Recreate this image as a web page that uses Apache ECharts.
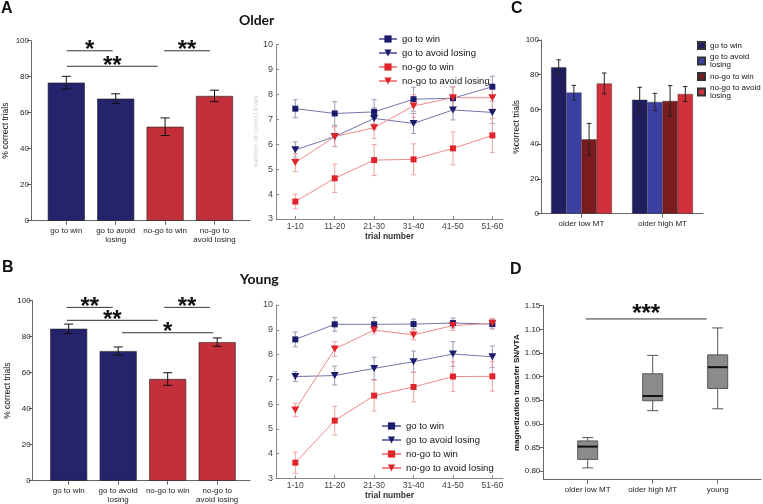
<!DOCTYPE html>
<html><head><meta charset="utf-8">
<script src="https://cdn.jsdelivr.net/npm/echarts@6/dist/echarts.min.js"></script>
<style>html,body{margin:0;padding:0;background:#fff}#c{width:763px;height:504px}</style>
</head><body><div id="c"></div>
<script>
// ---------------- data ----------------
const barCategories = ['go to win', 'go to avoid\nlosing', 'no-go to win', 'no-go to\navoid losing'];
const olderBarMeans = [76.7, 67.8, 52.2, 69.3];
const olderBarErrors = [3.5, 2.7, 4.9, 3.2];
const youngBarMeans = [84.4, 72.0, 56.5, 77.0];
const youngBarErrors = [2.6, 2.3, 3.5, 2.3];
// significance bars: [from category, to category, y value]
const olderSig = [[0.01, 0.94, 94.4], [0.01, 1.85, 85.8], [1.98, 2.91, 94.4]];
const olderSigLabels = ['*', '**', '**'];
const youngSig = [[-0.04, 0.89, 96.3], [-0.04, 1.80, 89.1], [1.08, 2.92, 82.2], [1.93, 2.85, 96.3]];
const youngSigLabels = ['**', '**', '*', '**'];

const trialBins = ['1-10', '11-20', '21-30', '31-40', '41-50', '51-60'];
const conditionNames = ['go to win', 'go to avoid losing', 'no-go to win', 'no-go to avoid losing'];
const olderGoWin = [7.42, 7.23, 7.29, 7.80, 7.84, 8.30];
const olderGoWinErr = [0.36, 0.47, 0.49, 0.48, 0.45, 0.42];
const olderGoAvoid = [5.77, 6.30, 7.03, 6.83, 7.37, 7.27];
const olderGoAvoidErr = [0.32, 0.40, 0.42, 0.40, 0.40, 0.45];
const olderNoGoWin = [3.70, 4.63, 5.36, 5.39, 5.83, 6.35];
const olderNoGoWinErr = [0.29, 0.57, 0.62, 0.62, 0.66, 0.68];
const olderNoGoAvoid = [5.26, 6.30, 6.66, 7.53, 7.86, 7.86];
const olderNoGoAvoidErr = [0.36, 0.40, 0.43, 0.45, 0.45, 0.45];

const youngGoWin = [8.61, 9.22, 9.22, 9.23, 9.27, 9.23];
const youngGoWinErr = [0.30, 0.28, 0.28, 0.20, 0.20, 0.20];
const youngGoAvoid = [7.11, 7.15, 7.44, 7.71, 8.02, 7.91];
const youngGoAvoidErr = [0.20, 0.38, 0.45, 0.43, 0.50, 0.43];
const youngNoGoWin = [3.63, 5.33, 6.34, 6.69, 7.11, 7.12];
const youngNoGoWinErr = [0.43, 0.58, 0.62, 0.60, 0.60, 0.60];
const youngNoGoAvoid = [5.76, 8.22, 8.99, 8.79, 9.17, 9.26];
const youngNoGoAvoidErr = [0.27, 0.30, 0.15, 0.20, 0.20, 0.20];

const mtGroups = ['older low MT', 'older high MT'];
const mtLegendNames = ['go to win', 'go to avoid\nlosing', 'no-go to win', 'no-go to avoid\nlosing'];
const mtGoWin = [84.3, 65.6];
const mtGoWinErr = [4.3, 7.2];
const mtGoAvoid = [69.7, 64.3];
const mtGoAvoidErr = [4.2, 5.0];
const mtNoGoWin = [42.8, 64.9];
const mtNoGoWinErr = [9.2, 8.8];
const mtNoGoAvoid = [75.0, 68.9];
const mtNoGoAvoidErr = [6.0, 4.3];

const boxGroups = ['older low MT', 'older high MT', 'young'];
// [min, q1, median, q3, max]
const boxLowMT = [0.807, 0.825, 0.852, 0.864, 0.871];
const boxHighMT = [0.928, 0.949, 0.959, 1.006, 1.045];
const boxYoung = [0.932, 0.975, 1.020, 1.046, 1.103];
const boxTicks = [0.80, 0.85, 0.90, 0.95, 1.00, 1.05, 1.10, 1.15];
const boxSig = [[-0.03, 1.83, 1.122]];
const boxSigLabels = ['***'];

// ---------------- style ----------------
const FONT = "'Liberation Sans', Arial, sans-serif";
const NAVY = '#25236b', RED = '#c3303a';
const barColors = [NAVY, NAVY, RED, RED];
const AXIS = '#666';

const chart = echarts.init(document.getElementById('c'), null, {renderer: 'canvas'});

function errorBars(xi, yi, points, capW, color, xOffset, z) {
  return {
    type: 'custom', xAxisIndex: xi, yAxisIndex: yi, silent: true, z: z || 4,
    data: points, encode: {x: 0, y: 1},
    renderItem: function (params, api) {
      const x = api.value(0), m = api.value(1), e = api.value(2);
      const t = api.coord([x, m + e]), b = api.coord([x, m - e]);
      const cx = t[0] + (xOffset || 0);
      const st = {stroke: color, lineWidth: 1};
      return {type: 'group', children: [
        {type: 'line', shape: {x1: cx, y1: t[1], x2: cx, y2: b[1]}, style: st},
        {type: 'line', shape: {x1: cx - capW / 2, y1: t[1], x2: cx + capW / 2, y2: t[1]}, style: st},
        {type: 'line', shape: {x1: cx - capW / 2, y1: b[1], x2: cx + capW / 2, y2: b[1]}, style: st}
      ]};
    }
  };
}

function sigBars(xi, yi, segs, labels, lift) {
  return {
    type: 'custom', xAxisIndex: xi, yAxisIndex: yi, silent: true, z: 6,
    data: segs, encode: {x: [0, 1], y: 2},
    renderItem: function (params, api) {
      const a = api.coord([api.value(0), api.value(2)]);
      const b = api.coord([api.value(1), api.value(2)]);
      return {type: 'group', children: [
        {type: 'line', shape: {x1: a[0], y1: a[1], x2: b[0], y2: b[1]}, style: {stroke: '#333', lineWidth: 1}},
        {type: 'text', x: (a[0] + b[0]) / 2, y: a[1] - lift,
          style: {text: labels[params.dataIndex], fontSize: 24, fontWeight: 'bold', fontFamily: FONT,
            fill: '#111', align: 'center', verticalAlign: 'middle'}}
      ]};
    }
  };
}

function valueCatX(gi, min, max, n, names, margin) {
  const vals = [];
  for (let i = 0; i < n; i++) vals.push(i);
  return {
    gridIndex: gi, type: 'value', min: min, max: max, splitLine: {show: false},
    axisLine: {show: true, onZero: false, lineStyle: {color: AXIS, width: 1}},
    axisTick: {show: true, customValues: vals, length: 4, lineStyle: {color: AXIS}},
    axisLabel: {customValues: vals, formatter: function (v) { return names[Math.round(v)]; },
      fontSize: 8, color: '#222', fontFamily: FONT, lineHeight: 9, margin: margin}
  };
}

function lineX(gi) {
  const vals = [0, 1, 2, 3, 4, 5];
  return {
    gridIndex: gi, type: 'value', min: -0.49, max: 5.27, splitLine: {show: false},
    axisLine: {show: true, onZero: false, lineStyle: {color: '#888', width: 1}},
    axisTick: {show: true, inside: true, customValues: vals, length: 3, lineStyle: {color: '#888'}},
    axisLabel: {customValues: vals, formatter: function (v) { return trialBins[Math.round(v)]; },
      fontSize: 8.5, color: '#444', fontFamily: FONT, margin: 3},
    name: 'trial number', nameLocation: 'middle', nameGap: 13,
    nameTextStyle: {fontSize: 8.5, fontWeight: 'bold', color: '#333', fontFamily: FONT}
  };
}
function lineY(gi, name) {
  return {
    gridIndex: gi, type: 'value', min: 3, max: 10, interval: 1, splitLine: {show: false},
    axisLine: {show: true, onZero: false, lineStyle: {color: '#888', width: 1}},
    axisTick: {show: true, inside: true, length: 3, lineStyle: {color: '#888'}},
    axisLabel: {fontSize: 9, color: '#444', fontFamily: FONT, margin: 3},
    name: name || '', nameLocation: 'middle', nameGap: 15,
    nameTextStyle: {fontSize: 7, color: '#d0d0d0', fontFamily: FONT}
  };
}
function pctY(gi, name, gap) {
  return {
    gridIndex: gi, type: 'value', min: 0, max: 100, interval: 20, splitLine: {show: false},
    axisLine: {show: true, onZero: false, lineStyle: {color: AXIS, width: 1}},
    axisTick: {show: true, length: 4, lineStyle: {color: AXIS}},
    axisLabel: {fontSize: 8, color: '#222', fontFamily: FONT, margin: 2},
    name: name, nameLocation: 'middle', nameGap: gap,
    nameTextStyle: {fontSize: 8.5, color: '#111', fontFamily: FONT}
  };
}

const navyM = '#1b1b6b', navyL = '#7474ae', navyE = '#9a9ab4';
const redM = '#e0242a', redL = '#f08a8a', redE = '#efa3a3';
function lineSeries(xi, name, vals, sym, mc, lc) {
  return {
    type: 'line', name: name, xAxisIndex: xi, yAxisIndex: xi, z: 5,
    data: vals.map(function (v, i) { return [i, v]; }),
    symbol: sym === 'tri' ? 'triangle' : 'rect',
    symbolSize: sym === 'tri' ? [8, 7] : 6,
    symbolRotate: sym === 'tri' ? 180 : 0,
    itemStyle: {color: mc}, lineStyle: {color: lc, width: 1}, emphasis: {disabled: true}
  };
}
function ptsOf(vals, errs) { return vals.map(function (v, i) { return [i, v, errs[i]]; }); }

const BW = 15.2;
const mtSeriesVals = [mtGoWin, mtGoAvoid, mtNoGoWin, mtNoGoAvoid];
const mtSeriesErr = [mtGoWinErr, mtGoAvoidErr, mtNoGoWinErr, mtNoGoAvoidErr];
const mtColors = ['#201e5e', '#3d40a3', '#7a1b1d', '#d0313b'];

const series = [];
// A bar
series.push({type: 'bar', name: 'older bars', xAxisIndex: 0, yAxisIndex: 0, barWidth: 37,
  data: olderBarMeans.map(function (v, i) { return {value: [i, v], itemStyle: {color: barColors[i]}}; }),
  itemStyle: {borderColor: '#222', borderWidth: 0.6}, emphasis: {disabled: true}});
series.push(errorBars(0, 0, ptsOf(olderBarMeans, olderBarErrors), 9, '#111', 0));
series.push(sigBars(0, 0, olderSig, olderSigLabels, 0));
// B bar
series.push({type: 'bar', name: 'young bars', xAxisIndex: 3, yAxisIndex: 3, barWidth: 37,
  data: youngBarMeans.map(function (v, i) { return {value: [i, v], itemStyle: {color: barColors[i]}}; }),
  itemStyle: {borderColor: '#222', borderWidth: 0.6}, emphasis: {disabled: true}});
series.push(errorBars(3, 3, ptsOf(youngBarMeans, youngBarErrors), 9, '#111', 0));
series.push(sigBars(3, 3, youngSig, youngSigLabels, 0));
// A line
series.push(errorBars(1, 1, ptsOf(olderGoWin, olderGoWinErr), 5, navyE, 0, 3));
series.push(errorBars(1, 1, ptsOf(olderGoAvoid, olderGoAvoidErr), 5, navyE, 0, 3));
series.push(errorBars(1, 1, ptsOf(olderNoGoWin, olderNoGoWinErr), 5, redE, 0, 3));
series.push(errorBars(1, 1, ptsOf(olderNoGoAvoid, olderNoGoAvoidErr), 5, redE, 0, 3));
series.push(lineSeries(1, conditionNames[0], olderGoWin, 'sq', navyM, navyL));
series.push(lineSeries(1, conditionNames[1], olderGoAvoid, 'tri', navyM, navyL));
series.push(lineSeries(1, conditionNames[2], olderNoGoWin, 'sq', redM, redL));
series.push(lineSeries(1, conditionNames[3], olderNoGoAvoid, 'tri', redM, redL));
// B line
series.push(errorBars(4, 4, ptsOf(youngGoWin, youngGoWinErr), 5, navyE, 0, 3));
series.push(errorBars(4, 4, ptsOf(youngGoAvoid, youngGoAvoidErr), 5, navyE, 0, 3));
series.push(errorBars(4, 4, ptsOf(youngNoGoWin, youngNoGoWinErr), 5, redE, 0, 3));
series.push(errorBars(4, 4, ptsOf(youngNoGoAvoid, youngNoGoAvoidErr), 5, redE, 0, 3));
series.push(lineSeries(4, conditionNames[0], youngGoWin, 'sq', navyM, navyL));
series.push(lineSeries(4, conditionNames[1], youngGoAvoid, 'tri', navyM, navyL));
series.push(lineSeries(4, conditionNames[2], youngNoGoWin, 'sq', redM, redL));
series.push(lineSeries(4, conditionNames[3], youngNoGoAvoid, 'tri', redM, redL));
// C grouped bars
mtSeriesVals.forEach(function (vals, k) {
  series.push({type: 'bar', name: 'C|' + mtLegendNames[k], xAxisIndex: 2, yAxisIndex: 2,
    barWidth: BW, barGap: '0%', data: vals, itemStyle: {color: mtColors[k], borderColor: '#333', borderWidth: 0.4},
    emphasis: {disabled: true}});
});
mtSeriesVals.forEach(function (vals, k) {
  series.push(errorBars(2, 2, ptsOf(vals, mtSeriesErr[k]), 4.5, '#222', (k - 1.5) * BW));
});
// D boxplot
series.push({
  type: 'custom', name: 'box', xAxisIndex: 5, yAxisIndex: 5, silent: true, z: 4,
  data: [boxLowMT, boxHighMT, boxYoung].map(function (b, i) { return [i].concat(b); }),
  encode: {x: 0, y: [1, 2, 3, 4, 5]},
  renderItem: function (params, api) {
    const x = api.value(0);
    const p = [1, 2, 3, 4, 5].map(function (d) { return api.coord([x, api.value(d)]); });
    const cx = p[0][0], hw = 10, cw = 5.5;
    const ws = {stroke: '#555', lineWidth: 1};
    return {type: 'group', children: [
      {type: 'line', shape: {x1: cx, y1: p[0][1], x2: cx, y2: p[1][1]}, style: ws},
      {type: 'line', shape: {x1: cx, y1: p[3][1], x2: cx, y2: p[4][1]}, style: ws},
      {type: 'line', shape: {x1: cx - cw, y1: p[0][1], x2: cx + cw, y2: p[0][1]}, style: ws},
      {type: 'line', shape: {x1: cx - cw, y1: p[4][1], x2: cx + cw, y2: p[4][1]}, style: ws},
      {type: 'rect', shape: {x: cx - hw, y: p[3][1], width: 2 * hw, height: p[1][1] - p[3][1]},
        style: {fill: '#8b8b8b', stroke: '#555', lineWidth: 1}},
      {type: 'line', shape: {x1: cx - hw, y1: p[2][1], x2: cx + hw, y2: p[2][1]}, style: {stroke: '#111', lineWidth: 2}}
    ]};
  }
});
series.push(sigBars(5, 5, boxSig, boxSigLabels, 5));

const option = {
  animation: false,
  backgroundColor: '#fff',
  textStyle: {fontFamily: FONT},
  title: [
    {text: 'A', left: 1, top: 1, padding: 0, textStyle: {fontSize: 16, fontWeight: 'bold', fontFamily: FONT, color: '#111'}},
    {text: 'C', left: 511, top: 1, padding: 0, textStyle: {fontSize: 16, fontWeight: 'bold', fontFamily: FONT, color: '#111'}},
    {text: 'B', left: 2, top: 260, padding: 0, textStyle: {fontSize: 16, fontWeight: 'bold', fontFamily: FONT, color: '#111'}},
    {text: 'D', left: 510, top: 262, padding: 0, textStyle: {fontSize: 16, fontWeight: 'bold', fontFamily: FONT, color: '#111'}},
    {text: 'Older', left: 239, top: 13, padding: 0, textStyle: {fontSize: 14, fontWeight: 'bold', fontFamily: 'Lato', color: '#111'}},
    {text: 'Young', left: 240, top: 272, padding: 0, textStyle: {fontSize: 14, fontWeight: 'bold', fontFamily: 'Lato', color: '#111'}}
  ],
  legend: [
    {orient: 'vertical', left: 378, top: 34, padding: 0, itemWidth: 18, itemHeight: 9, itemGap: 4,
      data: conditionNames, selectedMode: false,
      textStyle: {fontSize: 9.5, color: '#111', fontFamily: FONT}},
    {orient: 'vertical', left: 381, top: 421, padding: 0, itemWidth: 19, itemHeight: 9, itemGap: 4,
      data: conditionNames, selectedMode: false,
      textStyle: {fontSize: 9.5, color: '#111', fontFamily: FONT}},
    {orient: 'vertical', left: 697, top: 41, padding: 0, itemWidth: 7, itemHeight: 7, itemGap: 3,
      data: mtLegendNames.map(function (n) { return 'C|' + n; }), selectedMode: false, icon: 'rect',
      formatter: function (n) { return n.replace('C|', ''); },
      textStyle: {fontSize: 8, lineHeight: 8, color: '#111', fontFamily: FONT}}
  ],
  grid: [
    {left: 31, top: 40.7, width: 219, height: 180, outerBoundsMode: 'none'},
    {left: 276, top: 44.3, width: 227, height: 174.7, outerBoundsMode: 'none'},
    {left: 541, top: 40, width: 162, height: 173.7, outerBoundsMode: 'none'},
    {left: 32.7, top: 300.7, width: 217.3, height: 180, outerBoundsMode: 'none'},
    {left: 276, top: 305, width: 227, height: 173.3, outerBoundsMode: 'none'},
    {left: 543.3, top: 305.7, width: 217.7, height: 174, outerBoundsMode: 'none'}
  ],
  xAxis: [
    valueCatX(0, -0.715, 3.719, 4, barCategories, 6),
    lineX(1),
    {gridIndex: 2, type: 'category', data: mtGroups,
      axisLine: {show: true, lineStyle: {color: AXIS}},
      axisTick: {show: true, alignWithLabel: true, length: 4, lineStyle: {color: AXIS}},
      axisLabel: {fontSize: 8, color: '#222', fontFamily: FONT, margin: 6}},
    valueCatX(3, -0.727, 3.663, 4, barCategories, 6),
    lineX(4),
    valueCatX(5, -0.683, 2.666, 3, boxGroups, 6)
  ],
  yAxis: [
    pctY(0, '% correct trials', 21),
    lineY(1, 'number of correct trials'),
    pctY(2, '%correct trials', 20),
    pctY(3, '% correct trials', 21),
    lineY(4, ''),
    {gridIndex: 5, type: 'value', min: 0.782, max: 1.15, splitLine: {show: false},
      axisLine: {show: true, onZero: false, lineStyle: {color: AXIS}},
      axisTick: {show: true, length: 4, customValues: boxTicks, lineStyle: {color: AXIS}},
      axisLabel: {customValues: boxTicks, formatter: function (v) { return v.toFixed(2); },
        fontSize: 8, color: '#222', fontFamily: FONT, margin: 3},
      name: 'magnetization transfer SN/VTA', nameLocation: 'middle', nameGap: 22,
      nameTextStyle: {fontSize: 8, fontWeight: 'bold', color: '#111', fontFamily: FONT}}
  ],
  series: series
};
chart.setOption(option);
</script>
</body></html>
